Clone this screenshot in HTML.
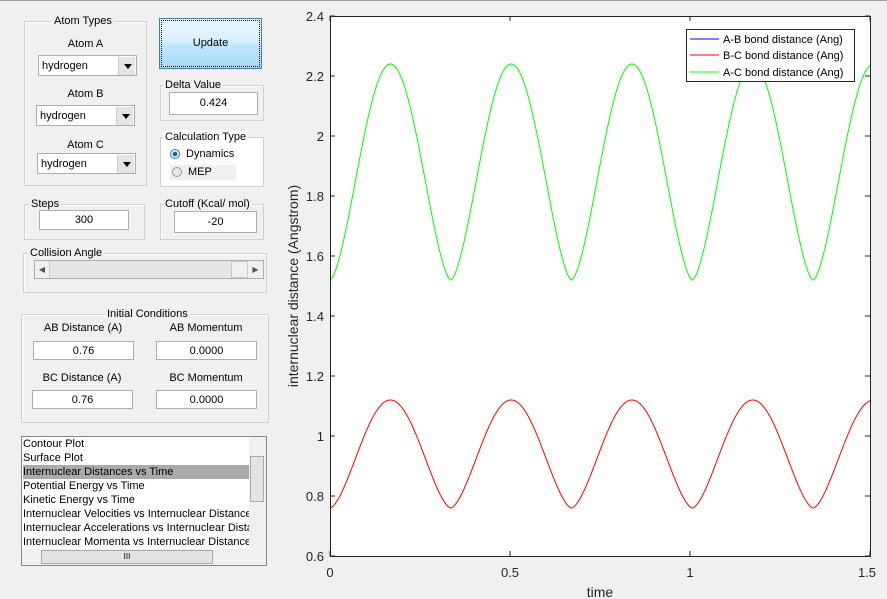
<!DOCTYPE html>
<html><head><meta charset="utf-8"><style>
*{box-sizing:border-box}
body{margin:0;width:887px;height:599px;background:#f0f0f0;font-family:"Liberation Sans",sans-serif;font-size:11px;color:#000;position:relative;overflow:hidden}
.a{position:absolute}
.grp{position:absolute;border:1px solid #d0d0d0;box-shadow:inset 1px 1px 0 #fff}
.lg{position:absolute;background:#f0f0f0;padding:0 2px;top:-8px;line-height:14px}
.tb{position:absolute;background:#fff;border:1px solid #adadad;text-align:center;line-height:18px;font-size:11px}
.dd{position:absolute;background:#fff;border:1px solid #adadad;line-height:20px;padding-left:3px;font-size:11px}
.dd i{position:absolute;right:1px;top:1px;width:17px;height:18px;background:#e5e5e5;border-left:1px solid #ccc}
.dd i:after{content:"";position:absolute;left:5px;top:7px;border:4px solid transparent;border-top:5px solid #000;border-bottom:0}
.lab{position:absolute;text-align:center}
</style></head><body>
<div class="a" style="left:0;top:0;width:887px;height:1px;background:#a0a0a0"></div>
<!-- Atom Types -->
<div class="grp" style="left:24px;top:21px;width:123px;height:165px"><div class="lg" style="left:27px">Atom Types</div></div>
<div class="lab" style="left:24px;top:38px;width:123px">Atom A</div>
<div class="dd" style="left:38px;top:55px;width:99px;height:21px">hydrogen<i></i></div>
<div class="lab" style="left:24px;top:88px;width:123px">Atom B</div>
<div class="dd" style="left:36px;top:105px;width:99px;height:21px">hydrogen<i></i></div>
<div class="lab" style="left:24px;top:139px;width:123px">Atom C</div>
<div class="dd" style="left:37px;top:153px;width:99px;height:21px">hydrogen<i></i></div>
<!-- Update -->
<div class="a" style="left:159px;top:18px;width:103px;height:51px;border:1px solid #3c7fb1;background:linear-gradient(#eaf6fd 0%,#d9f0fc 45%,#bee6fd 55%,#a7d9f5 100%);text-align:center;line-height:49px;outline:1px dotted #000;outline-offset:-3px">Update</div>
<div class="grp" style="left:160px;top:85px;width:104px;height:36px"><div class="lg" style="left:2px">Delta Value</div></div>
<div class="tb" style="left:169px;top:92px;width:89px;height:23px;line-height:21px">0.424</div>
<div class="grp" style="left:160px;top:137px;width:104px;height:50px;background:#fff"><div class="lg" style="left:2px;background:#fff">Calculation Type</div></div>
<div class="a" style="left:170px;top:149px;width:10px;height:10px;border-radius:50%;border:1px solid #3c7fb1;background:radial-gradient(#1e5f9e 35%,#dbeefb 45%)"></div>
<div class="a" style="left:186px;top:148px">Dynamics</div>
<div class="a" style="left:170px;top:165px;width:66px;height:15px;background:#f0f0f0"></div>
<div class="a" style="left:172px;top:167px;width:10px;height:10px;border-radius:50%;border:1px solid #999;background:#e8e8e8"></div>
<div class="a" style="left:188px;top:166px">MEP</div>
<div class="grp" style="left:24px;top:204px;width:121px;height:36px"><div class="lg" style="left:4px">Steps</div></div>
<div class="tb" style="left:39px;top:210px;width:90px;height:20px">300</div>
<div class="grp" style="left:160px;top:204px;width:104px;height:36px"><div class="lg" style="left:2px">Cutoff (Kcal/ mol)</div></div>
<div class="tb" style="left:174px;top:211px;width:83px;height:22px;line-height:20px">-20</div>
<div class="grp" style="left:23px;top:253px;width:244px;height:40px"><div class="lg" style="left:4px">Collision Angle</div></div>
<div class="a" style="left:34px;top:260px;width:230px;height:19px;border:1px solid #adadad;background:#e6e6e6"></div>
<div class="a" style="left:35px;top:261px;width:15px;height:17px;background:#f0f0f0;border-right:1px solid #ccc;font-size:8px;color:#555;text-align:center;line-height:17px">◀</div>
<div class="a" style="left:231px;top:261px;width:17px;height:17px;background:#f0f0f0;border:1px solid #ccc"></div>
<div class="a" style="left:248px;top:261px;width:15px;height:17px;background:#f0f0f0;font-size:8px;color:#555;text-align:center;line-height:17px">▶</div>
<!-- Initial Conditions -->
<div class="grp" style="left:21px;top:314px;width:248px;height:109px"><div class="lg" style="left:83px">Initial Conditions</div></div>
<div class="lab" style="left:33px;top:322px;width:100px">AB Distance (A)</div>
<div class="lab" style="left:156px;top:322px;width:100px">AB Momentum</div>
<div class="tb" style="left:33px;top:341px;width:101px;height:19px">0.76</div>
<div class="tb" style="left:156px;top:341px;width:101px;height:19px">0.0000</div>
<div class="lab" style="left:32px;top:372px;width:100px">BC Distance (A)</div>
<div class="lab" style="left:156px;top:372px;width:100px">BC Momentum</div>
<div class="tb" style="left:32px;top:390px;width:101px;height:19px">0.76</div>
<div class="tb" style="left:156px;top:390px;width:101px;height:19px">0.0000</div>
<!-- listbox -->
<div class="a" style="left:21px;top:436px;width:246px;height:130px;border:1px solid #828790;background:#fff;overflow:hidden">
<div style="position:absolute;left:1px;top:0;width:226px;line-height:14px;white-space:nowrap;overflow:hidden">
<div>Contour Plot</div><div>Surface Plot</div><div style="background:#aaa">Internuclear Distances vs Time</div><div>Potential Energy vs Time</div><div>Kinetic Energy vs Time</div><div>Internuclear Velocities vs Internuclear Distance</div><div>Internuclear Accelerations vs Internuclear Distance</div><div>Internuclear Momenta vs Internuclear Distance</div></div>
<div style="position:absolute;right:0;top:0;width:17px;height:112px;background:#f0f0f0"><div style="position:absolute;left:1px;top:19px;width:14px;height:46px;background:#e3e3e3;border:1px solid #aaa"></div></div>
<div style="position:absolute;left:0;top:112px;width:244px;height:16px;background:#f0f0f0"><div style="position:absolute;left:19px;top:1px;width:172px;height:14px;background:#e3e3e3;border:1px solid #aaa;text-align:center;font-size:8px;line-height:12px">III</div></div>
</div>
<!-- plot -->
<svg class="a" style="left:0;top:0" width="887" height="599" font-family="Liberation Sans, sans-serif">
<rect x="330" y="16" width="540" height="540" fill="#fff"/>
<path id="g" fill="none" stroke="#00ff00" stroke-width="1"/>
<path id="r" fill="none" stroke="#ff0000" stroke-width="1"/>
<rect x="330.5" y="16.5" width="540" height="540" fill="none" stroke="#262626"/>
<g stroke="#262626" id="ticks"></g>
<g font-size="13" fill="#262626" text-anchor="end">
<text x="324" y="21">2.4</text><text x="324" y="81">2.2</text><text x="324" y="141">2</text><text x="324" y="201">1.8</text><text x="324" y="261">1.6</text><text x="324" y="321">1.4</text><text x="324" y="381">1.2</text><text x="324" y="441">1</text><text x="324" y="501">0.8</text><text x="324" y="561">0.6</text>
</g>
<g font-size="13" fill="#262626" text-anchor="middle">
<text x="330" y="577">0</text><text x="510" y="577">0.5</text><text x="690" y="577">1</text><text x="867" y="577">1.5</text>
<text x="600" y="597" font-size="14">time</text>
<text transform="translate(298,286) rotate(-90)" font-size="14">internuclear distance (Angstrom)</text>
</g>
<rect x="686.5" y="29.5" width="168" height="52" fill="#fff" stroke="#262626"/>
<line x1="690" y1="39" x2="719" y2="39" stroke="#0000ff"/>
<line x1="690" y1="55" x2="719" y2="55" stroke="#ff0000"/>
<line x1="690" y1="72" x2="719" y2="72" stroke="#00ff00"/>
<g font-size="11" fill="#000"><text x="723" y="43">A-B bond distance (Ang)</text><text x="723" y="59">B-C bond distance (Ang)</text><text x="723" y="76">A-C bond distance (Ang)</text></g>
</svg>
<script>
function Y(v){return 556-(v-0.6)*300}
function X(t){return 330+t*360}
function mk(mn,mx){var d="",P=0.3355;for(var i=0;i<=1500;i++){var t=i*0.001;var c=(1-Math.cos(2*Math.PI*t/P))/2;c=Math.pow(c,0.8);var v=mn+(mx-mn)*c;d+=(i?"L":"M")+X(t).toFixed(2)+" "+Y(v).toFixed(2);}return d}
document.getElementById("g").setAttribute("d",mk(1.52,2.24));
document.getElementById("r").setAttribute("d",mk(0.76,1.12));
var s="";for(var k=0;k<10;k++){var y=16+k*60;s+='<line x1="330" y1="'+y+'" x2="335" y2="'+y+'"/><line x1="870" y1="'+y+'" x2="865" y2="'+y+'"/>';}
for(var k=0;k<4;k++){var x=330+k*180;s+='<line x1="'+x+'" y1="556" x2="'+x+'" y2="551"/><line x1="'+x+'" y1="16" x2="'+x+'" y2="21"/>';}
document.getElementById("ticks").innerHTML=s;
</script>
</body></html>
